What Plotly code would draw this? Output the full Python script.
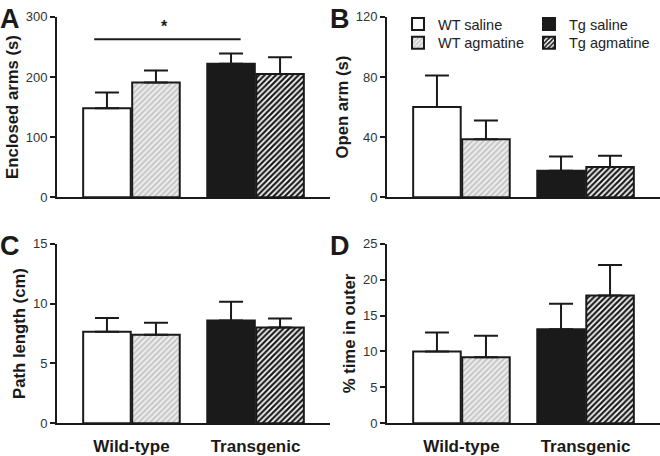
import plotly.graph_objects as go

# groups and conditions
genotypes = ["Wild-type", "Transgenic"]
conditions = ["WT saline", "WT agmatine", "Tg saline", "Tg agmatine"]
cond_genotype = ["Wild-type", "Wild-type", "Transgenic", "Transgenic"]
cond_slot = ["saline", "agmatine", "saline", "agmatine"]

# panel data: means and upper error (mean + SEM)
enclosed_mean = [148, 191, 222, 205]
enclosed_top = [174, 211, 239, 233]
open_mean = [60, 38.5, 17.5, 20]
open_top = [81, 51, 27, 27.5]
path_mean = [7.65, 7.4, 8.6, 8.0]
path_top = [8.8, 8.4, 10.15, 8.75]
outer_mean = [10.0, 9.2, 13.1, 17.8]
outer_top = [12.65, 12.2, 16.65, 22.05]

panel_titles = ["Enclosed arms (s)", "Open arm (s)", "Path length (cm)", "% time in outer"]
panel_letters = ["A", "B", "C", "D"]
y_ranges = [[0, 300], [0, 120], [0, 15], [0, 25]]
y_dticks = [100, 40, 5, 5]

W, H = 660, 456
FONT = "Liberation Sans, Arial, sans-serif"
INK = "#1a1a1a"

styles = {
    "WT saline": dict(color="white", pattern=dict(shape="")),
    "WT agmatine": dict(color="white", pattern=dict(shape="/", fgcolor="#c8c8c8", bgcolor="#f2f2f2",
                                                     size=4, solidity=0.55, fillmode="replace")),
    "Tg saline": dict(color=INK, pattern=dict(shape="")),
    "Tg agmatine": dict(color="white", pattern=dict(shape="/", fgcolor=INK, bgcolor="white",
                                                     size=4, solidity=0.55, fillmode="replace")),
}
# one legend per entry so the 2x2 key can be placed exactly
legend_of = {"WT saline": "legend", "Tg saline": "legend2", "WT agmatine": "legend3", "Tg agmatine": "legend4"}

# pixel boxes of the four plot areas: (left, right, top, bottom)
boxes = [(57, 330, 17, 198), (387, 660, 17, 198), (57, 330, 245, 425), (387, 660, 245, 425)]

fig = go.Figure()
panels = [(enclosed_mean, enclosed_top), (open_mean, open_top), (path_mean, path_top), (outer_mean, outer_top)]

for p, (means, tops) in enumerate(panels):
    ax = "" if p == 0 else str(p + 1)
    for i, c in enumerate(conditions):
        st = styles[c]
        fig.add_trace(go.Bar(
            x=[cond_genotype[i]], y=[means[i]],
            offsetgroup=cond_slot[i],
            name=c, legend=legend_of[c], showlegend=(p == 1),
            marker=dict(color=st["color"], pattern=st["pattern"], line=dict(color=INK, width=2)),
            error_y=dict(type="data", symmetric=False, array=[tops[i] - means[i]], arrayminus=[0],
                         color=INK, thickness=2, width=12),
            xaxis="x" + ax, yaxis="y" + ax,
        ))

legend_style = dict(yanchor="top", xanchor="left", bgcolor="rgba(0,0,0,0)",
                    font=dict(size=14.5, color="#222"), itemwidth=30)
col_x = [398 / W, 529 / W]
row_y = [1 - 8 / H, 1 - 27 / H]

layout = dict(
    width=W, height=H, margin=dict(l=0, r=0, t=0, b=0),
    paper_bgcolor="white", plot_bgcolor="white",
    barmode="group", bargap=0.21, bargroupgap=0.03,
    font=dict(family=FONT, color="#333", size=13),
    legend=dict(x=col_x[0], y=row_y[0], **legend_style),
    legend2=dict(x=col_x[1], y=row_y[0], **legend_style),
    legend3=dict(x=col_x[0], y=row_y[1], **legend_style),
    legend4=dict(x=col_x[1], y=row_y[1], **legend_style),
    annotations=[],
    shapes=[],
)

for p in range(4):
    ax = "" if p == 0 else str(p + 1)
    l, r, t, b = boxes[p]
    bottom_row = p >= 2
    layout["xaxis" + ax] = dict(
        domain=[l / W, r / W], anchor="y" + ax, type="category",
        categoryorder="array", categoryarray=genotypes, range=[-0.6, 1.6],
        showline=True, linecolor=INK, linewidth=2, ticks="", showgrid=False, zeroline=False,
        showticklabels=bottom_row, ticklabelstandoff=6,
        tickfont=dict(size=17, color=INK, family=FONT, weight="bold"),
    )
    layout["yaxis" + ax] = dict(
        domain=[1 - b / H, 1 - t / H], anchor="x" + ax, range=y_ranges[p], dtick=y_dticks[p],
        showline=True, linecolor=INK, linewidth=2, ticks="outside", ticklen=5, tickwidth=2,
        tickcolor=INK, showgrid=False, zeroline=False, automargin=False,
        tickfont=dict(size=13, color="#333"),
        title=dict(text=panel_titles[p], standoff=3,
                   font=dict(size=16.7, color=INK, family=FONT, weight="bold")),
    )
    layout["annotations"].append(dict(
        text="<b>%s</b>" % panel_letters[p], xref="paper", yref="paper",
        x=(l - 59) / W, y=1 - (t - 15) / H, xanchor="left", yanchor="top", showarrow=False,
        font=dict(size=27, color=INK, family=FONT),
    ))

# significance bar between WT saline and Tg saline in panel A
sig_y = 263
layout["shapes"].append(dict(type="line", xref="x", yref="y", x0=-0.3, x1=0.88, y0=sig_y, y1=sig_y,
                             line=dict(color=INK, width=2)))
layout["annotations"].append(dict(text="<b>*</b>", xref="x", yref="y", x=0.27, y=sig_y, yshift=2,
                                  xanchor="center", yanchor="bottom", showarrow=False,
                                  font=dict(size=16, color=INK)))

fig.update_layout(layout)
# drop the page's default body margin so the figure sits at the window's corner
fig.write_html("out.html", config={"displayModeBar": False},
               post_script="document.body.style.margin='0';")
